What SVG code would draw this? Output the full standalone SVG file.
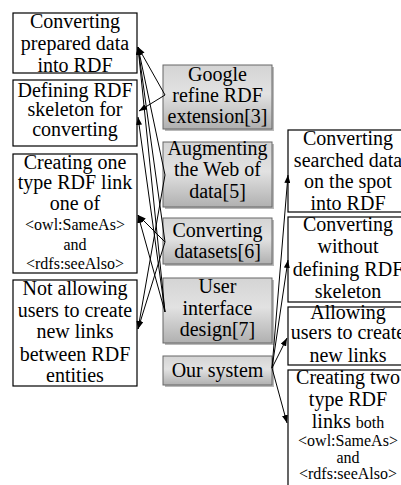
<svg xmlns="http://www.w3.org/2000/svg" width="401" height="485" viewBox="0 0 401 485">
<defs>
<linearGradient id="g" x1="0" y1="0" x2="0" y2="1">
<stop offset="0" stop-color="#d4d4d4"/>
<stop offset="0.45" stop-color="#e2e2e2"/>
<stop offset="1" stop-color="#b0b0b0"/>
</linearGradient>
<marker id="a" markerWidth="8" markerHeight="6" refX="8" refY="3" orient="auto" markerUnits="userSpaceOnUse">
<path d="M0,0 L8,3 L0,6 z" fill="#000"/>
</marker>
</defs>
<style>
.b{fill:#fff;stroke:#000;stroke-width:1.2}
.m{fill:url(#g);stroke:#666;stroke-width:1}
.s{fill:#8a8a8a;opacity:0.6}
text{font-family:"Liberation Serif","Times New Roman",serif;font-size:20px;fill:#000;text-anchor:middle}
.sm{font-size:16px}
.c line{stroke:#000;stroke-width:1;marker-end:url(#a)}
</style>
<rect width="401" height="485" fill="#fff"/>

<g id="l1"><rect class="b" x="13" y="13" width="124" height="60"/>
<text x="75" y="28">Converting</text><text x="75" y="50">prepared data</text><text x="75" y="72">into RDF</text></g>
<g id="l2"><rect class="b" x="13" y="80" width="124" height="66"/>
<text x="75" y="97">Defining RDF</text><text x="75" y="116">skeleton for</text><text x="75" y="136">converting</text></g>
<g id="l3"><rect class="b" x="13" y="154" width="124" height="119"/>
<text x="75" y="169">Creating one</text><text x="75" y="189">type RDF link</text><text x="75" y="210">one of</text>
<text class="sm" x="75" y="230">&lt;owl:SameAs&gt;</text><text class="sm" x="75" y="250">and</text><text class="sm" x="75" y="269">&lt;rdfs:seeAlso&gt;</text></g>
<g id="l4"><rect class="b" x="13" y="280" width="124" height="106"/>
<text x="75" y="295">Not allowing</text><text x="75" y="317">users to create</text><text x="75" y="338">new links</text><text x="75" y="361">between RDF</text><text x="75" y="382">entities</text></g>

<g id="m1"><rect class="s" x="165" y="67" width="109" height="64"/><rect class="m" x="163" y="65" width="109" height="64"/>
<text x="217.5" y="81">Google</text><text x="217.5" y="102">refine RDF</text><text x="217.5" y="123">extension[3]</text></g>
<g id="m2"><rect class="s" x="165" y="144" width="109" height="65"/><rect class="m" x="163" y="142" width="109" height="65"/>
<text x="217.5" y="155">Augmenting</text><text x="217.5" y="176">the Web of</text><text x="217.5" y="198">data[5]</text></g>
<g id="m3"><rect class="s" x="165" y="220" width="109" height="46"/><rect class="m" x="163" y="218" width="109" height="46"/>
<text x="217.5" y="237">Converting</text><text x="217.5" y="258">datasets[6]</text></g>
<g id="m4"><rect class="s" x="165" y="280" width="109" height="65"/><rect class="m" x="163" y="278" width="109" height="65"/>
<text x="217.5" y="293">User</text><text x="217.5" y="315">interface</text><text x="217.5" y="336">design[7]</text></g>
<g id="m5"><rect class="s" x="165" y="358" width="109" height="29"/><rect class="m" x="163" y="356" width="109" height="29"/>
<text x="217.5" y="377">Our system</text></g>

<g id="r1"><rect class="b" x="288" y="130" width="120" height="82"/>
<text x="348" y="145">Converting</text><text x="348" y="167">searched data</text><text x="348" y="188">on the spot</text><text x="348" y="210">into RDF</text></g>
<g id="r2"><rect class="b" x="288" y="217" width="120" height="85"/>
<text x="348" y="231">Converting</text><text x="348" y="253">without</text><text x="348" y="276">defining RDF</text><text x="348" y="298">skeleton</text></g>
<g id="r3"><rect class="b" x="288" y="307" width="120" height="58"/>
<text x="348" y="319">Allowing</text><text x="348" y="339">users to create</text><text x="348" y="362">new links</text></g>
<g id="r4"><rect class="b" x="288" y="370" width="120" height="122"/>
<text x="348" y="384">Creating two</text><text x="348" y="406">type RDF</text><text x="348" y="428">links <tspan class="sm">both</tspan></text>
<text class="sm" x="348" y="446">&lt;owl:SameAs&gt;</text><text class="sm" x="348" y="463">and</text><text class="sm" x="348" y="479">&lt;rdfs:seeAlso&gt;</text></g>

<g id="connectors" class="c">
<line x1="165" y1="95" x2="138" y2="47"/>
<line x1="165" y1="95" x2="139" y2="111"/>
<line x1="165" y1="175" x2="138" y2="47"/>
<line x1="165" y1="175" x2="138" y2="329"/>
<line x1="165" y1="242" x2="138" y2="47"/>
<line x1="165" y1="242" x2="138" y2="215"/>
<line x1="165" y1="242" x2="138" y2="329"/>
<line x1="165" y1="312" x2="138" y2="47"/>
<line x1="165" y1="312" x2="138" y2="117"/>
<line x1="165" y1="312" x2="138" y2="215"/>
<line x1="272" y1="368" x2="288" y2="175"/>
<line x1="272" y1="368" x2="288" y2="260"/>
<line x1="272" y1="368" x2="287" y2="338"/>
<line x1="272" y1="368" x2="287" y2="423"/>
</g>
</svg>
